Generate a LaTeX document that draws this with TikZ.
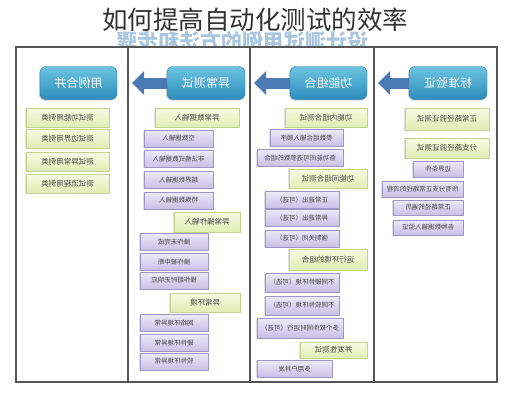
\documentclass[tikz,border=0pt]{standalone}
\usepackage{fontspec}
\newfontfamily\cjk{Noto Sans CJK SC}
\usetikzlibrary{arrows.meta,shadows}

\definecolor{hdrtop}{HTML}{6CC4E0}
\definecolor{hdrbot}{HTML}{2C8CBC}
\definecolor{hdrline}{HTML}{2A7BA8}
\definecolor{arrowblue}{HTML}{4A79B4}
\definecolor{gtop}{HTML}{F7FBE2}
\definecolor{gbot}{HTML}{E2ECB4}
\definecolor{gline}{HTML}{C3D38F}
\definecolor{ptop}{HTML}{ECE9F8}
\definecolor{pbot}{HTML}{C8C0E6}
\definecolor{pline}{HTML}{9F96C8}
\definecolor{framegray}{HTML}{555555}
\definecolor{marktext}{HTML}{A9C6DE}
\definecolor{boxtext}{HTML}{444444}

\tikzset{
  flipped/.style={xscale=-1, transform shape},
  hdr/.style={flipped, rounded corners=6pt, top color=hdrtop, bottom color=hdrbot, draw=hdrline,
    text=white, minimum width=77pt, minimum height=33pt, inner sep=0pt,
    font=\cjk\fontsize{12}{12}\selectfont,
    drop shadow={shadow xshift=-1pt, shadow yshift=-1.2pt, fill=black!35, opacity=0.5}},
  gbox/.style={flipped, top color=gtop, bottom color=gbot, draw=gline, text=boxtext,
    minimum height=19pt, inner sep=0pt, font=\cjk\fontsize{7.5}{7.5}\selectfont,
    drop shadow={shadow xshift=-0.8pt, shadow yshift=-0.8pt, fill=black!30, opacity=0.4}},
  pbox/.style={flipped, top color=ptop, bottom color=pbot, draw=pline, text=boxtext,
    minimum height=17pt, inner sep=0pt, font=\cjk\fontsize{6.5}{6.5}\selectfont,
    drop shadow={shadow xshift=-0.8pt, shadow yshift=-0.8pt, fill=black!30, opacity=0.4}},
  flow/.style={arrowblue, line width=11pt, -{Triangle[length=12pt,width=23pt]}},
}

\begin{document}
\begin{tikzpicture}[x=1pt,y=-1pt]
      \fill[white] (0,0) rectangle (508,400);

      % title and faint mirrored caption behind the frame
      \node[font=\cjk\fontsize{25.5}{25.5}\selectfont, text=black!80] (title) at (255,20) {如何提高自动化测试的效率};
      \node[flipped, font=\cjk\bfseries\fontsize{21}{21}\selectfont, text=marktext] (mark) at (242,41) {设计测试用例的方法和步骤};

      % frame with four columns
      \fill[white] (16,47) rectangle (497,382);
      \draw[framegray, line width=1.3pt] (16,47) rectangle (497,382);
      \draw[framegray, line width=1.3pt] (128,47) -- (128,382);
      \draw[framegray, line width=1.3pt] (250,47) -- (250,382);
      \draw[framegray, line width=1.3pt] (374,47) -- (374,382);

      \coordinate (tip2) at (132,83);
      \coordinate (tip3) at (254,83);
      \coordinate (tip4) at (378,83);

      % headers
      \node[hdr] (merge) at (78.5,83) {用例合并};
      \node[hdr, minimum width=78pt] (error) at (206,83) {异常测试};
      \node[hdr] (combo) at (328.5,83) {功能组合};
      \node[hdr, minimum width=78pt] (norm) at (448,83) {标准验证};

      \draw[flow] (error) -- (tip2);
      \draw[flow] (combo) -- (tip3);
      \draw[flow] (norm) -- (tip4);

      % column 1
      \node[gbox, minimum width=83pt] (m1) at (67.5,117.5) {测试功能用例类};
      \node[gbox, minimum width=83pt] (m2) at (67.5,139) {测试边界用例类};
      \node[gbox, minimum width=83pt] (m3) at (67.5,162) {测试异常用例类};
      \node[gbox, minimum width=83pt] (m4) at (67.5,183.5) {测试流程用例类};

      % column 2
      \node[gbox, minimum width=84pt] (e1) at (197,117.5) {异常数据输入};
      \node[pbox, minimum width=69pt] (e1a) at (178.5,138.5) {空数据输入};
      \node[pbox, minimum width=69pt] (e1b) at (178.5,159) {非法格式数据输入};
      \node[pbox, minimum width=69pt] (e1c) at (178.5,180) {越界数据输入};
      \node[pbox, minimum width=69pt] (e1d) at (178.5,200.5) {特殊数据输入};
      \node[gbox, minimum width=66pt, minimum height=20pt] (e2) at (207,222) {异常操作输入};
      \node[pbox, minimum width=68pt] (e2a) at (174,242) {操作未完成};
      \node[pbox, minimum width=68pt] (e2b) at (174,262) {操作被中断};
      \node[pbox, minimum width=68pt] (e2c) at (174,280.5) {操作超时无响应};
      \node[gbox, minimum width=70pt] (e3) at (205,302.5) {异常环境};
      \node[pbox, minimum width=68pt] (e3a) at (174,323) {网络环境异常};
      \node[pbox, minimum width=68pt] (e3b) at (174,343) {硬件环境异常};
      \node[pbox, minimum width=68pt] (e3c) at (174,361.5) {软件环境异常};

      % column 3
      \node[gbox, minimum width=82pt] (c1) at (326,117.5) {功能内组合测试};
      \node[pbox, minimum width=73pt] (c1a) at (306.5,138) {参数组合输入顺序};
      \node[pbox, minimum width=86pt] (c1b) at (300,158) {各功能间可选参数的组合};
      \node[gbox, minimum width=78pt] (c2) at (328,179) {功能间组合测试};
      \node[pbox, minimum width=74pt] (c2a) at (302,200) {正常退出（可选）};
      \node[pbox, minimum width=74pt] (c2b) at (302,218) {异常退出（可选）};
      \node[pbox, minimum width=74pt] (c2c) at (302,238.5) {强制关闭（可选）};
      \node[gbox, minimum width=78pt, minimum height=21pt] (c3) at (328,259.5) {运行环境的组合};
      \node[pbox, minimum width=74pt, minimum height=19pt] (c3a) at (302,282.5) {不同硬件环境（可选）};
      \node[pbox, minimum width=74pt, minimum height=19pt] (c3b) at (302,305.5) {不同软件环境（可选）};
      \node[pbox, minimum width=86pt, minimum height=20pt] (c3c) at (300,328) {多个软件同时运行（可选）};
      \node[gbox, minimum width=67pt, minimum height=16pt] (c4) at (333.5,350) {并发性测试};
      \node[pbox, minimum width=75pt] (c4a) at (294.5,369) {多用户并发};

      % column 4
      \node[gbox, minimum width=84pt, minimum height=22pt] (n1) at (447,119) {正常路径验证测试};
      \node[gbox, minimum width=84pt, minimum height=20pt] (n2) at (447,148) {分支路径验证测试};
      \node[pbox, minimum width=50pt, minimum height=16pt] (n2a) at (438,169) {边界条件};
      \node[pbox, minimum width=81pt, minimum height=16pt] (n2b) at (422.5,189) {所有分支正常路径的流程};
      \node[pbox, minimum width=70pt, minimum height=15pt] (n2c) at (428,207.5) {正常路径的遍历};
      \node[pbox, minimum width=70pt, minimum height=15pt] (n2d) at (428,227.5) {各种数据输入验证};
\end{tikzpicture}
\end{document}
